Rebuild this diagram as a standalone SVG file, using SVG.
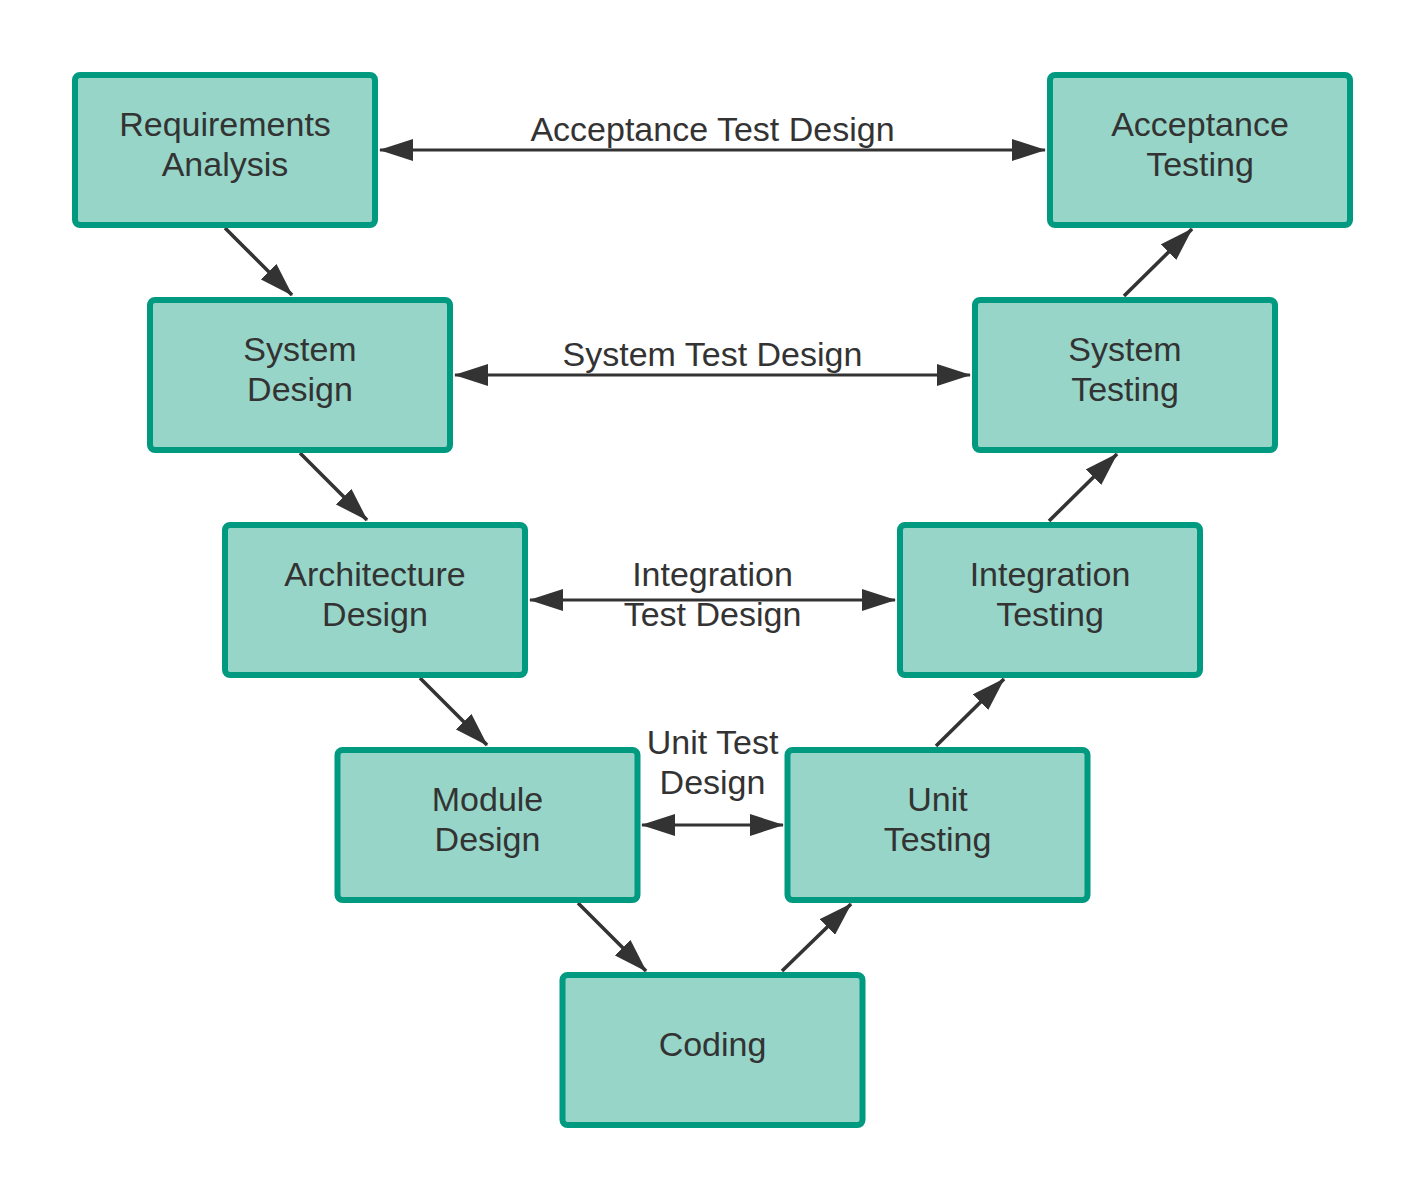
<svg xmlns="http://www.w3.org/2000/svg" width="1425" height="1200" viewBox="0 0 1425 1200">
<style>
.box{fill:#96d5c8;stroke:#009a80;stroke-width:6}
.t{font-family:"Liberation Sans",Arial,sans-serif;font-size:34px;fill:#333333;text-anchor:middle}
.c{stroke:#333333;stroke-width:3;fill:none}
.g{stroke-width:3.6}
.s{marker-end:url(#ah)}
.d{marker-start:url(#ah);marker-end:url(#ah)}
</style>
<defs>
<marker id="ah" viewBox="0 0 34 22" refX="33" refY="11" markerWidth="34" markerHeight="22" markerUnits="userSpaceOnUse" orient="auto-start-reverse">
<path d="M0,0 L34,11 L0,22 z" fill="#333333"/>
</marker>
</defs>
<rect width="1425" height="1200" fill="#ffffff"/>
<g id="connectors">
<line class="c d" x1="380" y1="150" x2="1045" y2="150"/>
<line class="c d" x1="455" y1="375" x2="970" y2="375"/>
<line class="c d" x1="530" y1="600" x2="895" y2="600"/>
<line class="c d" x1="642" y1="825" x2="783" y2="825"/>
<line class="c g s" x1="225" y1="228" x2="292" y2="295"/>
<line class="c g s" x1="300" y1="453" x2="367" y2="520"/>
<line class="c g s" x1="420" y1="678" x2="487" y2="745"/>
<line class="c g s" x1="578" y1="903" x2="646" y2="971"/>
<line class="c g s" x1="782" y1="971" x2="851" y2="904"/>
<line class="c g s" x1="936" y1="746" x2="1004" y2="679"/>
<line class="c g s" x1="1049" y1="521" x2="1117" y2="454"/>
<line class="c g s" x1="1124" y1="296" x2="1192" y2="229"/>
<text class="t" x="712.5" y="141">Acceptance Test Design</text>
<text class="t" x="712.5" y="366">System Test Design</text>
<text class="t" x="712.5" y="586">Integration</text>
<text class="t" x="712.5" y="626">Test Design</text>
<text class="t" x="712.5" y="754">Unit Test</text>
<text class="t" x="712.5" y="794">Design</text>
</g>
<g id="req"><rect class="box" x="75" y="75" width="300" height="150" rx="5"/><text class="t" x="225" y="136">Requirements</text><text class="t" x="225" y="176">Analysis</text></g>
<g id="acc"><rect class="box" x="1050" y="75" width="300" height="150" rx="5"/><text class="t" x="1200" y="136">Acceptance</text><text class="t" x="1200" y="176">Testing</text></g>
<g id="sysd"><rect class="box" x="150" y="300" width="300" height="150" rx="5"/><text class="t" x="300" y="361">System</text><text class="t" x="300" y="401">Design</text></g>
<g id="syst"><rect class="box" x="975" y="300" width="300" height="150" rx="5"/><text class="t" x="1125" y="361">System</text><text class="t" x="1125" y="401">Testing</text></g>
<g id="arch"><rect class="box" x="225" y="525" width="300" height="150" rx="5"/><text class="t" x="375" y="586">Architecture</text><text class="t" x="375" y="626">Design</text></g>
<g id="intt"><rect class="box" x="900" y="525" width="300" height="150" rx="5"/><text class="t" x="1050" y="586">Integration</text><text class="t" x="1050" y="626">Testing</text></g>
<g id="mod"><rect class="box" x="337.5" y="750" width="300" height="150" rx="5"/><text class="t" x="487.5" y="811">Module</text><text class="t" x="487.5" y="851">Design</text></g>
<g id="unit"><rect class="box" x="787.5" y="750" width="300" height="150" rx="5"/><text class="t" x="937.5" y="811">Unit</text><text class="t" x="937.5" y="851">Testing</text></g>
<g id="coding"><rect class="box" x="562.5" y="975" width="300" height="150" rx="5"/><text class="t" x="712.5" y="1056">Coding</text></g>
</svg>
